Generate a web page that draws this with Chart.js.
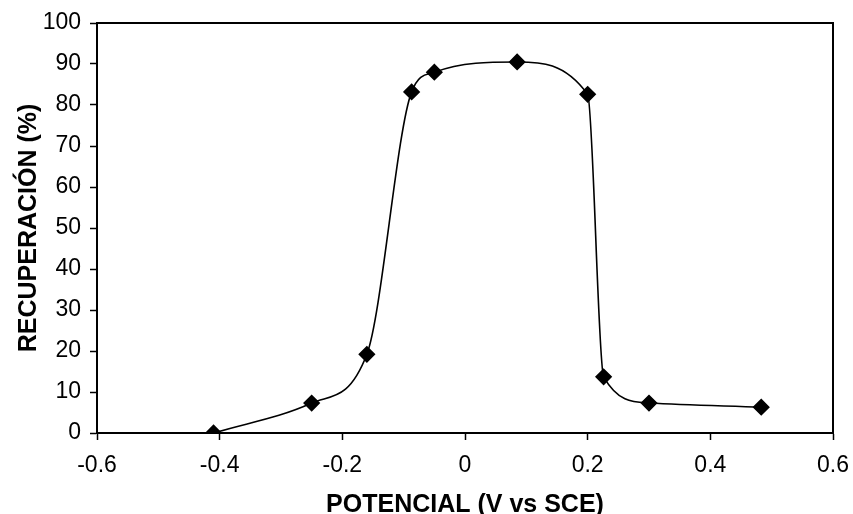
<!DOCTYPE html>
<html>
<head>
<meta charset="utf-8">
<script src="https://cdn.jsdelivr.net/npm/chart.js@4"></script>
<style>
  html, body { margin: 0; padding: 0; background: #fff; }
  #wrap { width: 853px; height: 514px; }
</style>
</head>
<body>
<div id="wrap"><canvas id="recovery-chart"></canvas></div>
<script>
const potential = [-0.41, -0.25, -0.16, -0.087, -0.05, 0.085, 0.2, 0.226, 0.3, 0.483];
const recovery = [0, 7.3, 19.2, 83.2, 88, 90.5, 82.6, 13.7, 7.3, 6.3];
const xTicks = [-0.6, -0.4, -0.2, 0, 0.2, 0.4, 0.6];
const yTicks = [0, 10, 20, 30, 40, 50, 60, 70, 80, 90, 100];

const points = potential.map((x, i) => ({ x: x, y: recovery[i] }));

// full black frame round the plot area
const frame = {
  id: "frame",
  afterDraw(chart) {
    const a = chart.chartArea;
    const ctx = chart.ctx;
    ctx.save();
    ctx.strokeStyle = "#000";
    ctx.lineWidth = 2;
    ctx.strokeRect(a.left, a.top, a.right - a.left, a.bottom - a.top);
    ctx.restore();
  },
};

const ctx = document.getElementById("recovery-chart").getContext("2d");
new Chart(ctx, {
  type: "scatter",
  data: {
    datasets: [
      {
        data: points,
        showLine: true,
        borderColor: "#000",
        borderWidth: 1.6,
        cubicInterpolationMode: "monotone",
        pointStyle: "rectRot",
        pointRadius: 7.5,
        pointBackgroundColor: "#000",
        pointBorderColor: "#000",
      },
    ],
  },
  options: {
    responsive: true,
    maintainAspectRatio: false,
    animation: false,
    layout: { padding: { top: 23, right: 20, left: 0, bottom: 0 } },
    plugins: { legend: { display: false }, tooltip: { enabled: false } },
    scales: {
      x: {
        type: "linear",
        min: -0.6,
        max: 0.6,
        afterBuildTicks: (s) => { s.ticks = xTicks.map((v) => ({ value: v })); },
        afterFit: (s) => {
          s.height = 81;
          s.paddingLeft = 0;
          s.paddingRight = 0;
        },
        ticks: {
          color: "#000",
          font: { family: "Liberation Sans, Arial", size: 23 },
          padding: 12,
          callback: (v) => String(Number(v.toFixed(1))),
        },
        grid: { drawOnChartArea: false, color: "#000", tickLength: 7, tickWidth: 1.5 },
        border: { color: "#000", width: 2 },
        title: {
          display: true,
          text: "POTENCIAL (V vs SCE)",
          color: "#000",
          font: { family: "Liberation Sans, Arial", size: 25, weight: "bold" },
          padding: { top: 0, bottom: -6 },
        },
      },
      y: {
        min: 0,
        max: 100,
        afterBuildTicks: (s) => { s.ticks = yTicks.map((v) => ({ value: v })); },
        afterFit: (s) => { s.width = 97; },
        ticks: {
          color: "#000",
          font: { family: "Liberation Sans, Arial", size: 23 },
          padding: 9,
        },
        grid: { drawOnChartArea: false, color: "#000", tickLength: 7, tickWidth: 1.5 },
        border: { color: "#000", width: 2 },
        title: {
          display: true,
          text: "RECUPERACIÓN (%)",
          color: "#000",
          font: { family: "Liberation Sans, Arial", size: 25, weight: "bold" },
          padding: { top: 14, bottom: 0 },
        },
      },
    },
  },
  plugins: [frame],
});
</script>
</body>
</html>
